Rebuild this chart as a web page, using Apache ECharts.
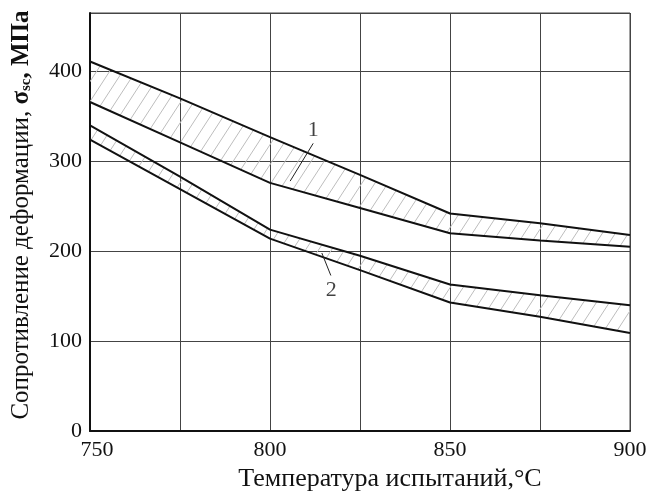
<!DOCTYPE html>
<html><head><meta charset="utf-8">
<script src="https://cdn.jsdelivr.net/npm/echarts@6/dist/echarts.min.js"></script>
<style>html,body{margin:0;padding:0;background:#fff}#c{width:652px;height:498px}</style>
</head><body><div id="c"></div>
<script>
const temps = [750, 775, 800, 825, 850, 875, 900];
const band1Upper = [411, 370, 327, 285, 242, 231, 218];
const band1Lower = [366, 321, 276, 248, 220, 212, 205];
const band2Upper = [340, 283, 224, 195, 163, 151, 140];
const band2Lower = [324, 269, 214, 179, 143, 127, 109];
const xTickLabels = [750, 800, 850, 900];
const yTickLabels = [0, 100, 200, 300, 400];
const xTitle = 'Температура испытаний,°C';
const label1 = {text: '1', at: [812, 335], leader: [[812, 320], [805.6, 278]]};
const label2 = {text: '2', at: [817, 157], leader: [[814.4, 198], [816.9, 173]]};

function hatchCanvas() {
  const c = document.createElement('canvas');
  c.width = 13; c.height = 20;
  const g = c.getContext('2d');
  g.strokeStyle = '#bdbdbd';
  g.lineWidth = 1;
  g.beginPath();
  g.moveTo(-13, 20); g.lineTo(0, 0);
  g.moveTo(0, 20); g.lineTo(13, 0);
  g.moveTo(13, 20); g.lineTo(26, 0);
  g.stroke();
  return c;
}
const pattern = {image: hatchCanvas(), repeat: 'repeat'};
const serif = 'Liberation Serif';

function bandSeries(upper, lower) {
  return {
    type: 'custom', silent: true, z: 1,
    data: [[temps[0], lower[0]]],
    renderItem: function (params, api) {
      const pts = [];
      temps.forEach((t, i) => pts.push(api.coord([t, upper[i]])));
      for (let i = temps.length - 1; i >= 0; i--) pts.push(api.coord([temps[i], lower[i]]));
      return {type: 'polygon', shape: {points: pts}, style: {fill: pattern, stroke: null}};
    }
  };
}
function lineSeries(vals) {
  return {
    type: 'line', z: 3, symbol: 'none', silent: true,
    lineStyle: {color: '#111', width: 2},
    data: temps.map((t, i) => [t, vals[i]])
  };
}
function annotSeries(a) {
  return {
    type: 'scatter', z: 4, silent: true, symbolSize: 0,
    data: [a.at],
    label: {show: true, formatter: a.text, position: 'inside', color: '#111', fontFamily: serif, fontSize: 22},
    markLine: {
      silent: true, symbol: 'none', animation: false,
      lineStyle: {color: '#222', width: 1, type: 'solid'},
      label: {show: false},
      data: [[{coord: a.leader[0]}, {coord: a.leader[1]}]]
    }
  };
}

const chart = echarts.init(document.getElementById('c'), null, {renderer: 'canvas'});
chart.setOption({
  animation: false,
  backgroundColor: '#fff',
  grid: {left: 90, right: 22, top: 13, bottom: 67, show: true, borderColor: '#444', borderWidth: 1},
  xAxis: {
    type: 'value', min: 750, max: 900, interval: 25,
    name: xTitle, nameLocation: 'middle', nameGap: 33,
    nameTextStyle: {fontFamily: serif, fontSize: 26, color: '#111', padding: [0, 0, 0, 60]},
    axisLine: {show: true, lineStyle: {color: '#111', width: 2}},
    axisTick: {show: false},
    splitLine: {show: true, lineStyle: {color: '#444', width: 1}},
    axisLabel: {
      fontFamily: serif, fontSize: 22, color: '#111', margin: 8,
      formatter: v => xTickLabels.indexOf(v) < 0 ? '' : (v === xTickLabels[0] ? '{f|' + v + '}' : String(v)),
      rich: {f: {fontFamily: serif, fontSize: 22, color: '#111', padding: [0, 0, 0, 14]}}
    }
  },
  yAxis: {
    type: 'value', min: 0, max: 465, interval: 100,
    name: '{n|Сопротивление деформации, }{b|σ}{s|sc}{b|, МПа}',
    nameLocation: 'middle', nameGap: 56, nameRotate: 90,
    nameTextStyle: {
      fontFamily: serif, fontSize: 25, color: '#111', padding: [0, 0, 0, 14],
      rich: {
        n: {fontFamily: serif, fontSize: 25, color: '#111'},
        b: {fontFamily: serif, fontSize: 25, color: '#111', fontWeight: 'bold'},
        s: {fontFamily: serif, fontSize: 15, color: '#111', fontWeight: 'bold', verticalAlign: 'bottom', padding: [9, 0, 0, 0]}
      }
    },
    axisLine: {show: true, lineStyle: {color: '#111', width: 2}},
    axisTick: {show: false},
    splitLine: {show: true, lineStyle: {color: '#444', width: 1}},
    axisLabel: {
      fontFamily: serif, fontSize: 22, color: '#111', margin: 8,
      showMaxLabel: false,
      formatter: v => yTickLabels.indexOf(v) < 0 ? '' : String(v)
    }
  },
  series: [
    bandSeries(band1Upper, band1Lower),
    bandSeries(band2Upper, band2Lower),
    lineSeries(band1Upper), lineSeries(band1Lower),
    lineSeries(band2Upper), lineSeries(band2Lower),
    annotSeries(label1), annotSeries(label2)
  ]
});
</script></body></html>
